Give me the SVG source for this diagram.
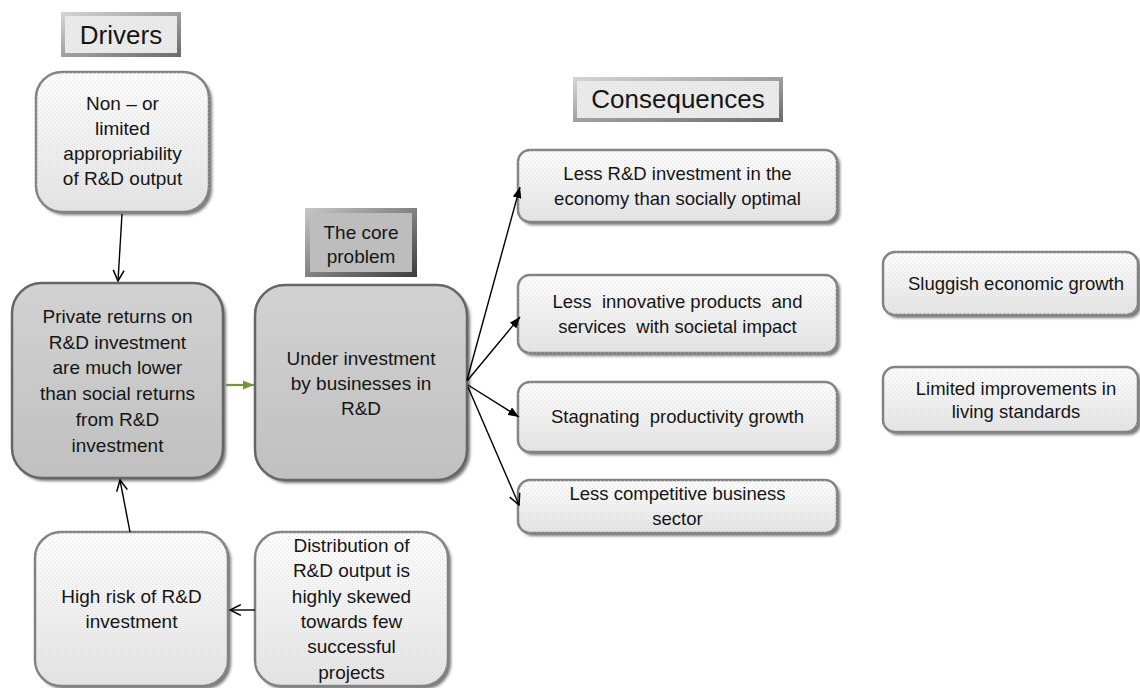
<svg xmlns="http://www.w3.org/2000/svg" width="1140" height="688" viewBox="0 0 1140 688">
<style>
text{font-family:"Liberation Sans",Arial,sans-serif;fill:#151515;text-anchor:middle}
.t{font-size:19px}
.tc{font-size:18.5px}
.h{font-size:26px}
.light{fill:url(#gLight);stroke:#828282;stroke-width:2.5}
.dark{fill:url(#gDark);stroke:#666;stroke-width:2.5}
.tex{fill:url(#dots);stroke:none}
.sh{fill:#4a4a4a;filter:url(#blur);opacity:0.75}
.con{stroke:#000;stroke-width:1.4;fill:none}
</style>
<defs>
<linearGradient id="gLight" x1="0" y1="0" x2="0" y2="1"><stop offset="0" stop-color="#fdfdfd"/><stop offset="1" stop-color="#e4e4e4"/></linearGradient>
<linearGradient id="gDark" x1="0" y1="0" x2="0" y2="1"><stop offset="0" stop-color="#d2d2d2"/><stop offset="1" stop-color="#c0c0c0"/></linearGradient>
<linearGradient id="bevL" x1="0" y1="0" x2="1" y2="1"><stop offset="0" stop-color="#d6d6d6"/><stop offset="1" stop-color="#6a6a6a"/></linearGradient>
<linearGradient id="bevD" x1="0" y1="0" x2="1" y2="1"><stop offset="0" stop-color="#c8c8c8"/><stop offset="1" stop-color="#3c3c3c"/></linearGradient>
<pattern id="dots" width="4" height="4" patternUnits="userSpaceOnUse"><rect x="0" y="0" width="1" height="1" fill="#c8c8c8" opacity="0.5"/><rect x="2" y="2" width="1" height="1" fill="#c8c8c8" opacity="0.5"/></pattern>
<filter id="blur" x="-10%" y="-10%" width="120%" height="120%"><feGaussianBlur stdDeviation="1.5"/></filter>
<marker id="af" viewBox="0 0 10 8" refX="10" refY="4" markerWidth="11" markerHeight="9" markerUnits="userSpaceOnUse" orient="auto"><path d="M0,0 L10,4 L0,8 z" fill="#000"/></marker>
<marker id="ag" viewBox="0 0 10 8" refX="10" refY="4" markerWidth="11" markerHeight="10" markerUnits="userSpaceOnUse" orient="auto"><path d="M0,0 L10,4 L0,8 z" fill="#77933c"/></marker>
<marker id="ao" viewBox="0 0 12 12" refX="11" refY="6" markerWidth="13" markerHeight="13" markerUnits="userSpaceOnUse" orient="auto"><path d="M1,1 L11,6 L1,11" fill="none" stroke="#000" stroke-width="1.4"/></marker>
</defs>
<rect width="1140" height="688" fill="#fff"/>

<g id="drivers">
<rect x="61" y="12" width="120" height="45" fill="url(#bevL)"/>
<rect x="65" y="16" width="112" height="37" fill="#ebebeb"/>
<rect x="65" y="16" width="112" height="37" class="tex"/>
<text x="121" y="44" class="h">Drivers</text>
</g>

<g id="consequences">
<rect x="573" y="77" width="210" height="45" fill="url(#bevL)"/>
<rect x="577" y="81" width="202" height="37" fill="#ebebeb"/>
<rect x="577" y="81" width="202" height="37" class="tex"/>
<text x="678" y="108" class="h">Consequences</text>
</g>

<g id="core-label">
<rect x="305" y="208" width="112" height="69" fill="url(#bevD)"/>
<rect x="310" y="213" width="102" height="59" fill="#bdbdbd"/>
<text x="361" y="239" class="t">The core</text>
<text x="361" y="263" class="t">problem</text>
</g>

<g id="nonor">
<rect x="39" y="75" width="173" height="140" rx="26" class="sh"/>
<rect x="36" y="72" width="173" height="140" rx="26" class="light"/>
<rect x="36" y="72" width="173" height="140" rx="26" class="tex"/>
<text x="122.5" y="110" class="t">Non – or</text>
<text x="122.5" y="135" class="t">limited</text>
<text x="122.5" y="160" class="t">appropriability</text>
<text x="122.5" y="185" class="t">of R&amp;D output</text>
</g>

<g id="private">
<rect x="15" y="286" width="211" height="195" rx="30" class="sh"/>
<rect x="12" y="283" width="211" height="195" rx="30" class="dark"/>
<text x="117.5" y="323" class="t">Private returns on</text>
<text x="117.5" y="349" class="t">R&amp;D investment</text>
<text x="117.5" y="374" class="t">are much lower</text>
<text x="117.5" y="400" class="t">than social returns</text>
<text x="117.5" y="426" class="t">from R&amp;D</text>
<text x="117.5" y="452" class="t">investment</text>
</g>

<g id="under">
<rect x="258" y="288" width="212" height="195" rx="30" class="sh"/>
<rect x="255" y="285" width="212" height="195" rx="30" class="dark"/>
<text x="361" y="365" class="t">Under investment</text>
<text x="361" y="390" class="t">by businesses in</text>
<text x="361" y="415" class="t">R&amp;D</text>
</g>

<g id="highrisk">
<rect x="38" y="535" width="193" height="154" rx="26" class="sh"/>
<rect x="35" y="532" width="193" height="154" rx="26" class="light"/>
<rect x="35" y="532" width="193" height="154" rx="26" class="tex"/>
<text x="131.5" y="603" class="t">High risk of R&amp;D</text>
<text x="131.5" y="628" class="t">investment</text>
</g>

<g id="distribution">
<rect x="258" y="535" width="193" height="154" rx="26" class="sh"/>
<rect x="255" y="532" width="193" height="154" rx="26" class="light"/>
<rect x="255" y="532" width="193" height="154" rx="26" class="tex"/>
<text x="351.5" y="552" class="t">Distribution of</text>
<text x="351.5" y="577" class="t">R&amp;D output is</text>
<text x="351.5" y="603" class="t">highly skewed</text>
<text x="351.5" y="628" class="t">towards few</text>
<text x="351.5" y="653" class="t">successful</text>
<text x="351.5" y="679" class="t">projects</text>
</g>

<g id="c1">
<rect x="521" y="153" width="319" height="72" rx="12" class="sh"/>
<rect x="518" y="150" width="319" height="72" rx="12" class="light"/>
<rect x="518" y="150" width="319" height="72" rx="12" class="tex"/>
<text x="677.5" y="180" class="tc">Less R&amp;D investment in the</text>
<text x="677.5" y="205" class="tc">economy than socially optimal</text>
</g>

<g id="c2">
<rect x="521" y="278" width="319" height="78" rx="12" class="sh"/>
<rect x="518" y="275" width="319" height="78" rx="12" class="light"/>
<rect x="518" y="275" width="319" height="78" rx="12" class="tex"/>
<text x="677.5" y="308" class="tc" xml:space="preserve">Less  innovative products  and</text>
<text x="677.5" y="333" class="tc" xml:space="preserve">services  with societal impact</text>
</g>

<g id="c3">
<rect x="521" y="385" width="319" height="70" rx="12" class="sh"/>
<rect x="518" y="382" width="319" height="70" rx="12" class="light"/>
<rect x="518" y="382" width="319" height="70" rx="12" class="tex"/>
<text x="677.5" y="423" class="tc" xml:space="preserve">Stagnating  productivity growth</text>
</g>

<g id="c4">
<rect x="521" y="483" width="319" height="53" rx="12" class="sh"/>
<rect x="518" y="480" width="319" height="53" rx="12" class="light"/>
<rect x="518" y="480" width="319" height="53" rx="12" class="tex"/>
<text x="677.5" y="500" class="tc">Less competitive business</text>
<text x="677.5" y="525" class="tc">sector</text>
</g>

<g id="r1">
<rect x="886" y="255" width="255" height="63" rx="12" class="sh"/>
<rect x="883" y="252" width="255" height="63" rx="12" class="light"/>
<rect x="883" y="252" width="255" height="63" rx="12" class="tex"/>
<text x="1016" y="290" class="tc">Sluggish economic growth</text>
</g>

<g id="r2">
<rect x="886" y="370" width="255" height="65" rx="12" class="sh"/>
<rect x="883" y="367" width="255" height="65" rx="12" class="light"/>
<rect x="883" y="367" width="255" height="65" rx="12" class="tex"/>
<text x="1016" y="395" class="tc">Limited improvements in</text>
<text x="1016" y="418" class="tc">living standards</text>
</g>

<g id="connectors">
<line x1="122" y1="214" x2="118" y2="281" class="con" marker-end="url(#ao)"/>
<line x1="130" y1="532" x2="120" y2="480" class="con" marker-end="url(#ao)"/>
<line x1="255" y1="610" x2="230" y2="610" class="con" marker-end="url(#ao)"/>
<line x1="226" y1="385" x2="254" y2="385" stroke="#77933c" stroke-width="2.2" marker-end="url(#ag)"/>
<line x1="467" y1="380" x2="520" y2="187" class="con" marker-end="url(#af)"/>
<line x1="467" y1="381" x2="520" y2="317" class="con" marker-end="url(#af)"/>
<line x1="468" y1="385" x2="519" y2="417" class="con" marker-end="url(#af)"/>
<line x1="468" y1="387" x2="519" y2="505" class="con" marker-end="url(#ao)"/>
</g>
</svg>
